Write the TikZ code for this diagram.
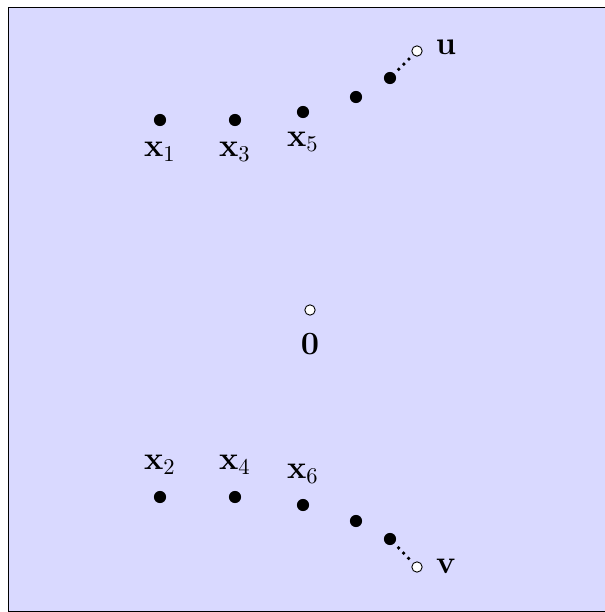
\documentclass[tikz,border=0pt]{standalone}
\usepackage{amsmath,amsfonts,amssymb}
\usetikzlibrary{positioning}

\begin{document}
\begin{tikzpicture}[
    x=0.0156cm, y=-0.0156cm,
    dot/.style={circle, fill=black, inner sep=0pt, minimum size=5.4pt},
    hollow/.style={circle, draw, fill=white, inner sep=0pt, minimum size=4.6pt, line width=0.4pt},
    lbl/.style={inner sep=1pt, font=\Large}
]
\useasboundingbox (0,0) rectangle (605,612);
\draw[fill=blue!15] (8,7) rectangle (609,611);

\node[dot] (x1) at (160,120) {};
\node[dot] (x3) at (235,120) {};
\node[dot] (x5) at (303,112) {};
\node[dot] (a1) at (356,97) {};
\node[dot] (a2) at (390,78) {};
\node[hollow] (u) at (417,51) {};

\node[hollow] (o) at (310,310) {};

\node[dot] (x2) at (160,497) {};
\node[dot] (x4) at (235,497) {};
\node[dot] (x6) at (303,505) {};
\node[dot] (b1) at (356,521) {};
\node[dot] (b2) at (390,539) {};
\node[hollow] (v) at (417,567) {};

\node[lbl] at (160,152) {$\mathbf{x}_1$};
\node[lbl] at (235,152) {$\mathbf{x}_3$};
\node[lbl] at (303,142) {$\mathbf{x}_5$};
\node[lbl] at (160,465) {$\mathbf{x}_2$};
\node[lbl] at (235,465) {$\mathbf{x}_4$};
\node[lbl] at (303,474) {$\mathbf{x}_6$};
\node[lbl] at (446,47) {$\mathbf{u}$};
\node[lbl] at (446,566) {$\mathbf{v}$};
\node[lbl] at (310,344) {$\mathbf{0}$};

\draw[dotted, line width=1.2pt, shorten <=2pt, shorten >=2pt] (a2) -- (u);
\draw[dotted, line width=1.2pt, shorten <=2pt, shorten >=2pt] (b2) -- (v);
\end{tikzpicture}
\end{document}
